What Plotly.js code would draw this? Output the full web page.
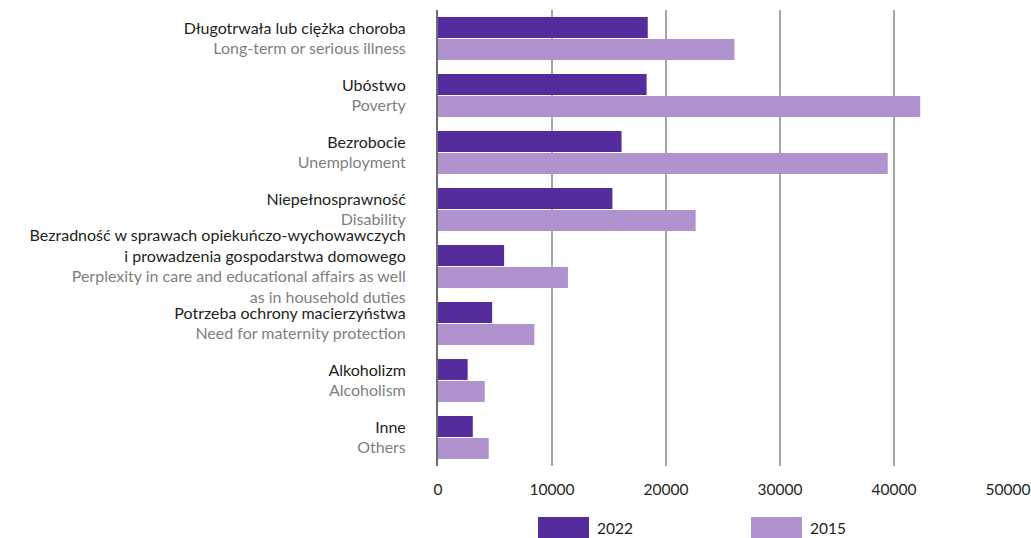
<!DOCTYPE html>
<html>
<head>
<meta charset="utf-8">
<script src="https://cdn.plot.ly/plotly-3.0.1.min.js"></script>
<style>html,body{margin:0;padding:0;background:#fff;}#chart{width:1031px;height:538px;}</style>
</head>
<body>
<div id="chart"></div>
<script>
const categoriesPl = [
  "Długotrwała lub ciężka choroba",
  "Ubóstwo",
  "Bezrobocie",
  "Niepełnosprawność",
  "Bezradność w sprawach opiekuńczo-wychowawczych<br>i prowadzenia gospodarstwa domowego",
  "Potrzeba ochrony macierzyństwa",
  "Alkoholizm",
  "Inne"
];
const categoriesEn = [
  "Long-term or serious illness",
  "Poverty",
  "Unemployment",
  "Disability",
  "Perplexity in care and educational affairs as well<br>as in household duties",
  "Need for maternity protection",
  "Alcoholism",
  "Others"
];
const values2022 = [18400, 18300, 16100, 15300, 5800, 4750, 2600, 3050];
const values2015 = [26000, 42300, 39450, 22600, 11400, 8450, 4100, 4450];
const seriesNames = ["2022", "2015"];
const xTicks = [0, 10000, 20000, 30000, 40000, 50000];

const colors = ["#552c9c", "#b093ce"];
const darkText = "#231f20";
const greyText = "#7f7f7f";

const keys = categoriesPl.map((c, i) => "c" + i);
const tickText = categoriesPl.map((pl, i) => {
  const plLines = pl.split("<br>").map(s => '<span style="color:' + darkText + '">' + s + '</span>');
  const enLines = categoriesEn[i].split("<br>").map(s => '<span style="color:' + greyText + '">' + s + '</span>');
  return plLines.concat(enLines).join("<br>");
});

const traces = [values2022, values2015].map((vals, k) => ({
  type: "bar",
  orientation: "h",
  name: seriesNames[k],
  y: keys,
  x: vals,
  marker: {color: colors[k], line: {width: 0}},
  hoverinfo: "x+name"
}));

const L = 438, R = 23, T = 10, B = 72;
const W = 1031, H = 538;
const pw = W - L - R, ph = H - T - B;
const px = v => (v - L) / pw;
const py = v => (H - B - v) / ph;

const legendShapes = [];
const legendAnn = [];
const legendX = [538, 751];
seriesNames.forEach((n, k) => {
  legendShapes.push({
    type: "rect", xref: "paper", yref: "paper",
    x0: px(legendX[k]), x1: px(legendX[k] + 51),
    y0: py(539), y1: py(517),
    fillcolor: colors[k], line: {width: 0}, layer: "above"
  });
  legendAnn.push({
    xref: "paper", yref: "paper", x: px(legendX[k] + 57), y: py(528),
    xanchor: "left", yanchor: "middle", showarrow: false,
    text: n, font: {size: 15.5, color: darkText}
  });
});

const layout = {
  width: W, height: H,
  margin: {l: L, r: R, t: T, b: B, pad: 0},
  paper_bgcolor: "#fff", plot_bgcolor: "#fff",
  font: {family: "Lato, 'Open Sans', sans-serif", size: 16, color: darkText},
  barmode: "group",
  bargap: 0.228,
  bargroupgap: 0.05,
  showlegend: false,
  xaxis: {
    range: [0, 50000],
    tickvals: xTicks,
    ticktext: xTicks.map(String),
    showgrid: true, gridcolor: "#a6a6a6", gridwidth: 1.5,
    zeroline: false, showline: false,
    ticks: "", ticklabelstandoff: 12,
    tickfont: {size: 15.5, color: darkText},
    fixedrange: true
  },
  yaxis: {
    type: "category",
    categoryorder: "array", categoryarray: keys,
    tickvals: keys, ticktext: tickText,
    autorange: "reversed",
    showgrid: false, zeroline: false,
    showline: true, linecolor: "#6d6d6d", linewidth: 2,
    ticks: "", ticklabelstandoff: 27,
    tickfont: {size: 16},
    fixedrange: true
  },
  shapes: legendShapes,
  annotations: legendAnn
};

Plotly.newPlot("chart", traces, layout, {displayModeBar: false, staticPlot: true});
</script>
</body>
</html>
